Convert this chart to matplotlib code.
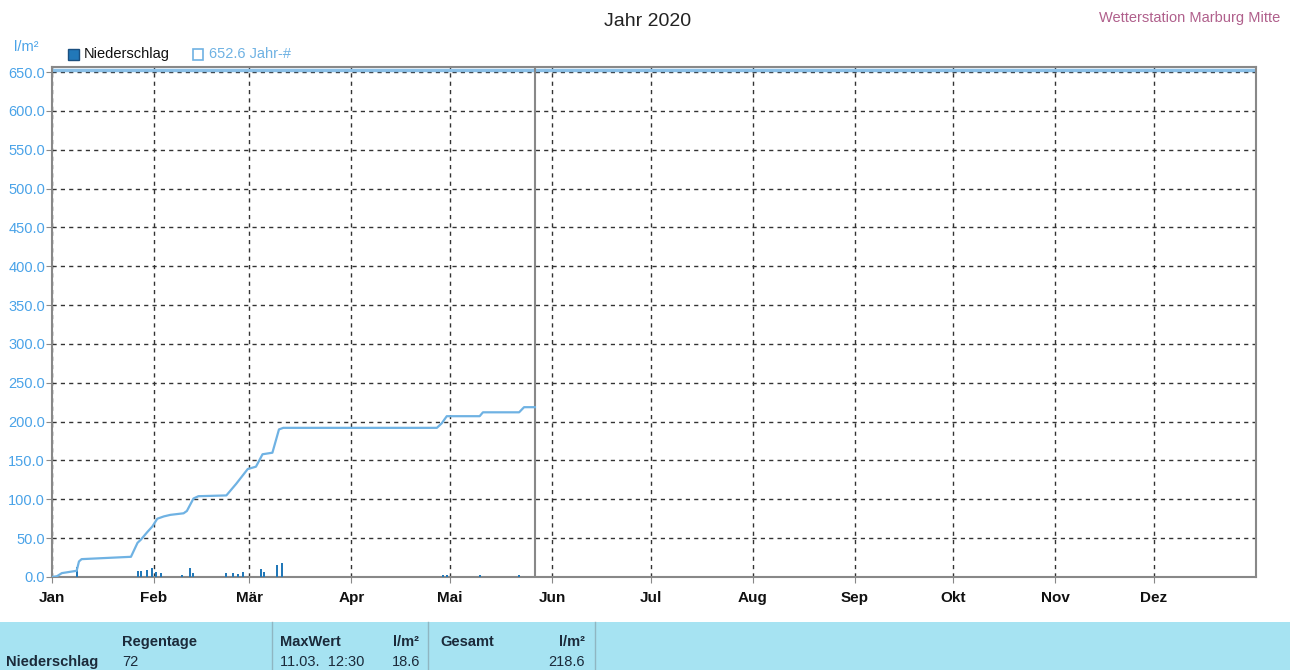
import numpy as np
import matplotlib.pyplot as plt
from matplotlib.patches import Rectangle

plt.rcParams['font.family'] = ['Liberation Sans', 'DejaVu Sans']

months = ['Jan', 'Feb', 'Mär', 'Apr', 'Mai', 'Jun', 'Jul', 'Aug', 'Sep', 'Okt', 'Nov', 'Dez']
month_len = [31, 29, 31, 30, 31, 30, 31, 31, 30, 31, 30, 31]

# cumulative precipitation (day of year, 0 = 1 Jan)
cum_days = [0, 1.5, 3, 6, 7.5, 8.2, 9, 24, 26, 27, 29, 30.5, 32, 34, 36, 40, 41, 43,
            44.5, 53, 56, 59.5, 62, 64, 67, 69, 70.3, 73, 117, 118.5, 120, 121, 130,
            131, 142, 143.5, 146.8]
cum_vals = [0, 1, 5, 7, 8, 20, 23, 26, 44, 48, 58, 65, 75, 78, 80, 82, 85, 101,
            104, 105, 120, 139, 142, 158, 160, 190, 192, 192, 192, 198, 207, 207, 207,
            212, 212, 218.6, 218.6]

# precipitation bars
bar_days = [7.5, 26, 27, 29, 30.5, 31.5, 33, 39.5, 42, 43, 53, 55, 56.5, 58, 63.5, 64.5,
            68.5, 69.8, 119, 120, 130, 142]
bar_vals = [13, 8, 8, 9, 11, 7, 5, 3, 12, 5, 5, 5, 4, 6, 10, 6, 16, 18.6, 2, 3, 2, 3]

year_mean = 652.6
now_day = 146.8

line_col = '#6fb2e3'
bar_col = '#2278b8'
tick_col = '#4aa3e8'

fig = plt.figure(figsize=(12.9, 6.7), dpi=100)
ax = fig.add_axes([52/1290, 93/670, 1204/1290, 510/670])

ax.bar(bar_days, bar_vals, width=0.6, color=bar_col, zorder=3)
ax.plot(cum_days, cum_vals, color=line_col, lw=1.6, zorder=4)
ax.axhline(year_mean, color=line_col, lw=2.5, zorder=2, alpha=0.8)
ax.axvline(now_day, color='#888888', lw=1.5, zorder=3)

starts = np.concatenate([[0], np.cumsum(month_len)])
ax.set_xlim(0, 366)
ax.set_ylim(0, 656.5)
ax.set_xticks(starts[:-1])
ax.set_xticklabels(months, fontsize=11, fontweight='bold', color='#111111')
ax.set_yticks(np.arange(0, 651, 50))
ax.set_yticklabels(['%.1f' % v for v in np.arange(0, 651, 50)], fontsize=10.5, color=tick_col)
ax.tick_params(axis='x', length=4, color='#888888', pad=6)
ax.tick_params(axis='y', length=4, color='#888888', pad=1)
ax.grid(True, color='#333333', ls=(0, (3, 3)), lw=1.0, zorder=1)
for s in ax.spines.values():
    s.set_color('#888888')
    s.set_linewidth(1.5)

fig.text(648/1290, 1 - 22/670, 'Jahr 2020', ha='center', va='center', fontsize=14, color='#222222')
fig.text(1280/1290, 1 - 18/670, 'Wetterstation Marburg Mitte', ha='right', va='center',
         fontsize=10.5, color='#b0608c')
fig.text(14/1290, 1 - 47/670, 'l/m²', ha='left', va='center', fontsize=10.5, color=tick_col)

# legend
fig.patches.append(Rectangle((68/1290, 1 - 60/670), 11/1290, 11/670, transform=fig.transFigure,
                             facecolor=bar_col, edgecolor='#1a4f80', lw=1))
fig.text(84/1290, 1 - 54/670, 'Niederschlag', ha='left', va='center', fontsize=10.5, color='#111111')
fig.patches.append(Rectangle((193/1290, 1 - 60/670), 10/1290, 11/670, transform=fig.transFigure,
                             facecolor='none', edgecolor=line_col, lw=1.2))
fig.text(209/1290, 1 - 54/670, '652.6 Jahr-#', ha='left', va='center', fontsize=10.5, color=line_col)

# statistics table
fig.patches.append(Rectangle((0, 0), 1, 48/670, transform=fig.transFigure,
                             facecolor='#a6e3f2', edgecolor='none'))
for xs in [272, 428, 595]:
    fig.add_artist(plt.Line2D([xs/1290, xs/1290], [0, 48/670], color='#8fb6c2', lw=1))
row1 = 1 - 642/670
row2 = 1 - 662/670
kw = dict(fontsize=10.5, fontweight='bold', color='#1b2a3a', va='center')
fig.text(6/1290, row2, 'Niederschlag', ha='left', **kw)
fig.text(122/1290, row1, 'Regentage', ha='left', **kw)
fig.text(122/1290, row2, '72', ha='left', fontsize=10.5, color='#1b2a3a', va='center')
fig.text(280/1290, row1, 'MaxWert', ha='left', **kw)
fig.text(406/1290, row1, 'l/m²', ha='center', **kw)
fig.text(280/1290, row2, '11.03.  12:30', ha='left', fontsize=10.5, color='#1b2a3a', va='center')
fig.text(406/1290, row2, '18.6', ha='center', fontsize=10.5, color='#1b2a3a', va='center')
fig.text(440/1290, row1, 'Gesamt', ha='left', **kw)
fig.text(585/1290, row1, 'l/m²', ha='right', **kw)
fig.text(585/1290, row2, '218.6', ha='right', fontsize=10.5, color='#1b2a3a', va='center')

fig.savefig('out.png', dpi=100)
